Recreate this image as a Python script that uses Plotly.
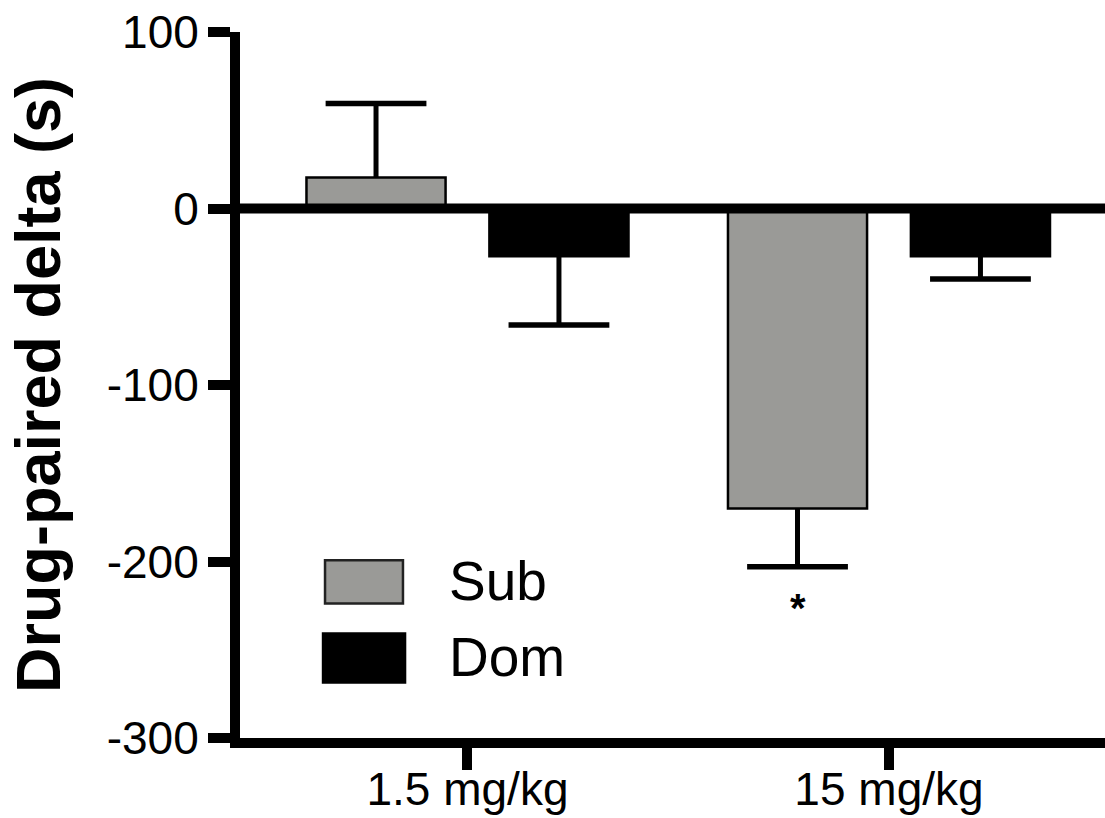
import plotly.graph_objects as go

# ---- data ----
doses = ["1.5 mg/kg", "15 mg/kg"]
group_pos = [0, 1]
sub_vals = [17.5, -170]
sub_err = [42, 33]
dom_vals = [-27, -27]
dom_err = [39, 13]
y_ticks = [-300, -200, -100, 0, 100]
y_tick_text = ["-300", "-200", "-100", "0", "100"]

FONT = "Liberation Sans, Arial, sans-serif"
GRAY = "#9a9a97"
BAR_W = 0.33
OFF = 0.217

fig = go.Figure()

def add_series(name, vals, errs, color, off):
    xs = [g + off for g in group_pos]
    fig.add_trace(go.Bar(
        x=xs, y=vals, width=BAR_W, name=name,
        marker=dict(color=color, line=dict(color="black", width=2.5)),
        showlegend=False,
    ))
    # one-sided error bars (away from zero)
    sx, sy, cx, cy = [], [], [], []
    for x, v, e in zip(xs, vals, errs):
        d = 1 if v >= 0 else -1
        sx += [x, x, None]
        sy += [v, v + d * e, None]
        cx.append(x)
        cy.append(v + d * e)
    fig.add_trace(go.Scatter(x=sx, y=sy, mode="lines",
                             line=dict(color="black", width=5),
                             showlegend=False, hoverinfo="skip"))
    fig.add_trace(go.Scatter(x=cx, y=cy, mode="markers",
                             marker=dict(symbol="line-ew", size=72,
                                         line=dict(color="black", width=5.5)),
                             showlegend=False, hoverinfo="skip"))

add_series("Sub", sub_vals, sub_err, GRAY, -OFF)
add_series("Dom", dom_vals, dom_err, "black", OFF)

# zero reference line above bars
fig.add_shape(type="line", xref="paper", x0=0, x1=1, yref="y", y0=0, y1=0,
              line=dict(color="black", width=10), layer="above")

# significance asterisk
fig.add_annotation(x=group_pos[1] - OFF, y=sub_vals[1] - sub_err[1] - 23.5,
                   text="*", showarrow=False, xanchor="center", yanchor="middle",
                   font=dict(family=FONT, size=40, color="black", weight="bold"))

# manual legend
legend_items = [("Sub", GRAY, 0.0983, 0.1884, 0.1906, 0.2516, 0.2218),
                ("Dom", "black", 0.096, 0.1908, 0.0787, 0.1481, 0.1141)]
for name, col, x0, x1, y0, y1, ty in legend_items:
    fig.add_shape(type="rect", xref="paper", yref="paper", x0=x0, x1=x1, y0=y0, y1=y1,
                  fillcolor=col, line=dict(color="#222222" if col != "black" else "black", width=2.5))
    fig.add_annotation(xref="paper", yref="paper", x=0.2393, y=ty, text=name,
                       showarrow=False, xanchor="left", yanchor="middle",
                       font=dict(family=FONT, size=55, color="black"))

fig.update_layout(
    width=1105, height=818,
    margin=dict(l=240, r=0, t=32, b=80, pad=0, autoexpand=False),
    paper_bgcolor="white", plot_bgcolor="white",
    showlegend=False,
    font=dict(family=FONT, color="black"),
    xaxis=dict(
        range=[-0.5397, 1.5125], tickvals=group_pos, ticktext=doses,
        showline=True, linecolor="black", linewidth=10,
        ticks="outside", ticklen=22, tickwidth=10, tickcolor="black",
        ticklabelstandoff=-20,
        tickfont=dict(family=FONT, size=46, color="black"),
        showgrid=False, zeroline=False, fixedrange=True, automargin=False,
    ),
    yaxis=dict(
        range=[-300, 100], tickvals=y_ticks, ticktext=y_tick_text,
        showline=True, linecolor="black", linewidth=10,
        ticks="outside", ticklen=22, tickwidth=10, tickcolor="black",
        tickfont=dict(family=FONT, size=46, color="black"),
        showgrid=False, zeroline=False, fixedrange=True, automargin=False,
        title=dict(text="Drug-paired delta (s)", standoff=30,
                   font=dict(family=FONT, size=63, color="black", weight="bold")),
    ),
)

fig.write_html("out.html", config={"displayModeBar": False},
               post_script="document.body.style.margin='0';document.body.style.overflow='hidden';")
